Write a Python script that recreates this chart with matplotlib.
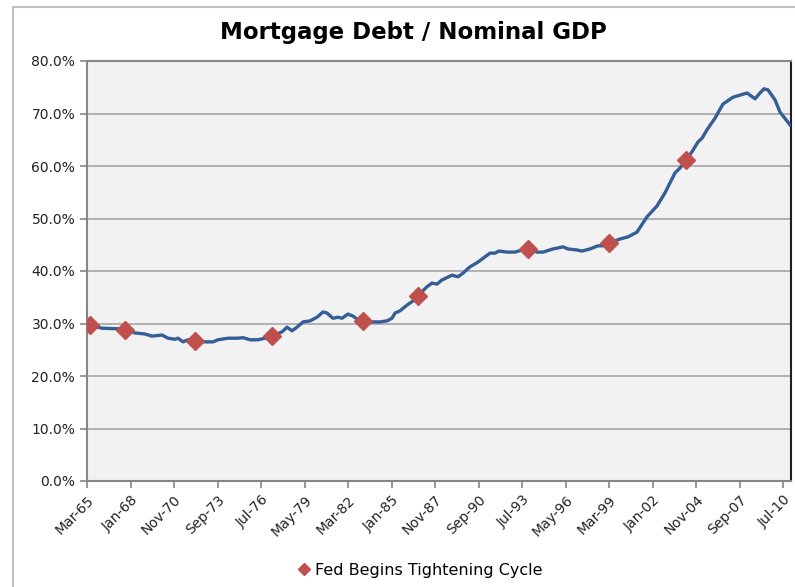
import numpy as np
import matplotlib
matplotlib.use('Agg')
import matplotlib.pyplot as plt
from matplotlib.patches import Rectangle
from matplotlib.ticker import FuncFormatter

# mortgage debt / nominal GDP, decimal year vs percent
years = [1965.17, 1965.36, 1966.14, 1967.19, 1967.64, 1968.29, 1968.94, 1969.40,
         1970.05, 1970.44, 1970.90, 1971.09, 1971.42, 1971.74, 1972.20, 1972.85,
         1973.37, 1973.70, 1974.35, 1975.00, 1975.32, 1975.78, 1976.30, 1976.76,
         1977.21, 1977.86, 1978.19, 1978.51, 1978.84, 1979.23, 1979.69, 1980.14,
         1980.53, 1980.79, 1981.18, 1981.51, 1981.77, 1982.16, 1982.49, 1982.81,
         1983.14, 1983.59, 1984.24, 1984.70, 1985.02, 1985.22, 1985.54, 1986.00,
         1986.39, 1986.72, 1987.30, 1987.63, 1987.95, 1988.28, 1988.93, 1989.32,
         1989.65, 1990.10, 1990.62, 1991.08, 1991.40, 1991.73, 1991.99, 1992.51,
         1993.03, 1993.49, 1993.88, 1994.46, 1994.85, 1995.51, 1996.16, 1996.48,
         1997.07, 1997.39, 1997.91, 1998.44, 1998.76, 1999.15, 1999.87, 2000.39,
         2000.97, 2001.62, 2002.28, 2002.80, 2003.45, 2003.77, 2004.16, 2004.55,
         2004.95, 2005.21, 2005.53, 2006.05, 2006.57, 2007.22, 2008.14, 2008.66,
         2008.98, 2009.24, 2009.50, 2009.96, 2010.28, 2010.94]
ratio = [29.8, 29.7, 29.1, 29.0, 28.8, 28.2, 28.0, 27.6,
         27.8, 27.2, 27.0, 27.2, 26.5, 26.9, 26.7, 26.5,
         26.5, 26.9, 27.2, 27.2, 27.3, 26.9, 26.9, 27.2,
         27.6, 28.4, 29.3, 28.6, 29.3, 30.3, 30.5, 31.2,
         32.2, 32.0, 31.0, 31.2, 31.0, 31.8, 31.4, 30.7,
         30.5, 30.3, 30.3, 30.5, 31.0, 32.0, 32.4, 33.5,
         34.3, 35.3, 37.0, 37.7, 37.5, 38.3, 39.2, 38.9,
         39.6, 40.8, 41.7, 42.7, 43.4, 43.4, 43.8, 43.6,
         43.6, 44.0, 44.2, 43.6, 43.6, 44.2, 44.6, 44.2,
         44.0, 43.8, 44.2, 44.8, 44.8, 45.3, 46.1, 46.5,
         47.4, 50.3, 52.4, 54.9, 58.7, 59.6, 61.1, 62.7,
         64.6, 65.3, 66.9, 69.1, 71.8, 73.1, 73.9, 72.8,
         73.9, 74.7, 74.5, 72.6, 70.3, 67.8]

# fed tightening cycle starts
fed_years = [1965.36, 1967.64, 1972.20, 1977.21, 1983.14, 1986.72, 1993.88, 1999.15, 2004.16]
fed_ratio = [29.7, 28.8, 26.7, 27.6, 30.5, 35.3, 44.2, 45.3, 61.1]

tick_labels = ['Mar-65', 'Jan-68', 'Nov-70', 'Sep-73', 'Jul-76', 'May-79', 'Mar-82',
               'Jan-85', 'Nov-87', 'Sep-90', 'Jul-93', 'May-96', 'Mar-99', 'Jan-02',
               'Nov-04', 'Sep-07', 'Jul-10']

fig = plt.figure(figsize=(7.95, 5.87), dpi=100)
ax = fig.add_axes([87 / 795, 1 - 481 / 587, 704 / 795, 420 / 587])
ax.set_facecolor('#f2f2f2')

# outer chart border
fig.patches.append(Rectangle((13 / 795, -0.2), 1.0, 1.2 - 7 / 587, transform=fig.transFigure,
                             fill=False, edgecolor='#c0c0c0', linewidth=1.5, zorder=0))

ax.plot(years, ratio, color='#335f96', linewidth=2.4, solid_joinstyle='round', zorder=3)
ax.plot(fed_years, fed_ratio, linestyle='none', marker='D', markersize=9,
        color='#c0504d', label='Fed Begins Tightening Cycle', zorder=4)

ax.set_ylim(0, 80)
ax.set_yticks(np.arange(0, 81, 10))
ax.yaxis.set_major_formatter(FuncFormatter(lambda v, p: f'{v:.1f}%'))
ax.grid(axis='y', color='#a6a6a6', linewidth=1.2, zorder=1)
ax.set_axisbelow(True)

# x ticks every 34 months starting Mar-65
tick_pos = [1965 + (2 + 34 * i) / 12 for i in range(len(tick_labels))]
ax.set_xlim(1965 + 2 / 12, 2011.0)
ax.set_xticks(tick_pos)
ax.set_xticklabels(tick_labels, rotation=45, ha='right', rotation_mode='anchor')

ax.tick_params(axis='both', labelsize=10, colors='#222222', length=5, width=1.2,
               direction='out')
ax.tick_params(axis='both', color='#868686')

for s in ['left', 'bottom', 'top']:
    ax.spines[s].set_color('#868686')
    ax.spines[s].set_linewidth(1.5)
ax.spines['right'].set_color('#202020')
ax.spines['right'].set_linewidth(1.5)

fig.text(413 / 795, 1 - 33 / 587, 'Mortgage Debt / Nominal GDP', ha='center', va='center',
         fontsize=16.5, fontweight='bold', color='black')

fig.legend(loc='center', bbox_to_anchor=(419 / 795, 1 - 570 / 587), frameon=False,
           fontsize=11.5, handletextpad=0.2, markerscale=0.7, handlelength=1.0)

fig.savefig('out.png', dpi=100)
